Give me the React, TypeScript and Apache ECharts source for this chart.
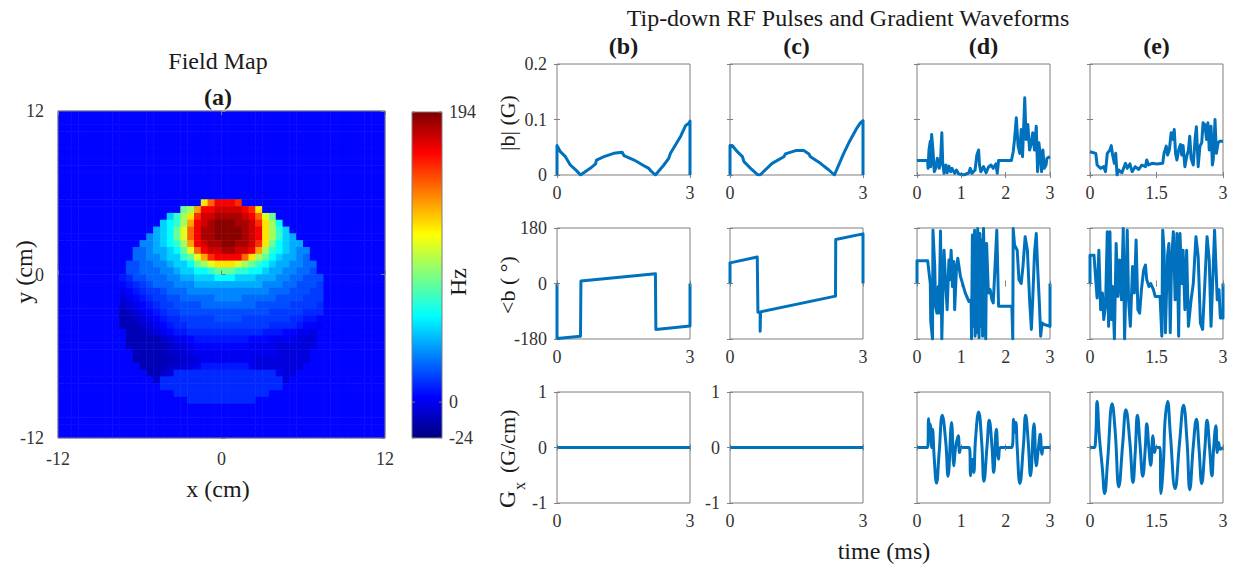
import React, { useEffect, useRef } from 'react';
import * as echarts from 'echarts';

const FONT = "'Liberation Serif', 'Times New Roman', serif";
const LINE_COLOR = '#0072BD';
const AXIS_COLOR = '#7f7f7f';
const LABEL_COLOR = '#333333';

// ---------- Field map (a) ----------
const FIELD_MIN = -24;
const FIELD_MAX = 194;
const FIELD_N = 48; // cells per side, 0.5 cm each, -12..12 cm
const FIELD_BACKGROUND = 4; // Hz outside the object
const FIELD_KEY = 'abcdefghijklmnopqrstuvwxyz';
const FIELD_LEVELS = [-12, -8, -4, 0, 4, 8, 12, 16, 20, 26, 32, 40, 48, 58, 68, 80, 92, 105, 118, 132, 145, 158, 168, 177, 185, 192];
const FIELD_ROW0 = 13; // first grid row (from top) covered by FIELD_ROWS
const FIELD_COL0 = 8; // grid column of offset 0
// [column offset, cell levels]
const FIELD_ROWS: [number, string][] = [
  [13, 'suwwwv'],
  [10, 'pqtwwxxxxwvs'],
  [8, 'moqsvxxyyyyxwurp'],
  [7, 'mnoqtwxyzzzyyxvsqn'],
  [6, 'lmnpruwyyzzzzyxwsqom'],
  [5, 'klmnpruwyyzzzzyxwsqoml'],
  [4, 'kklmnoqtwxyyzzyyxvspnmll'],
  [3, 'jjkllmnpruwxxyyxxwtqonmlkk'],
  [3, 'jjkklmmoprtvwwwwusqpnmllkj'],
  [2, 'iijjkklmmnpqrsssrqponmllkkjj'],
  [2, 'iijjjkklmmnnopppoonnmllkkjji'],
  [1, 'fgiijjjkkllmmmnnnmmmlllkkjjiii'],
  [1, 'efghijjjkkkllllllllllkkkjjiiih'],
  [1, 'defghhijjjkkkkkkkkkkkkjjjiiihh'],
  [1, 'cdefghhiijjjjjkkkkjjjjjiiiihhh'],
  [1, 'bcdefghhiiiijjjjjjjjiiiiihhhhg'],
  [1, 'abcdefghhiiiiiiiiiiiiihhhhhggg'],
  [1, 'aabcdefgghhhhhiiiihhhhhhhggffe'],
  [1, 'aaabcdefgghhhhhhhhhhhhggggfeed'],
  [2, 'aaabcdeffgggggggggggfffeeddc'],
  [2, 'aaaaabcddeffffffffeeeddddccc'],
  [2, 'aaaaaabccdeeeeeeeeddddcccccc'],
  [3, 'aaaaabbccddddddddddddccccc'],
  [3, 'aaaaaabbccddddddddcccccccc'],
  [4, 'aaaabbccdfffffffdccccccc'],
  [5, 'aabcgggggggggggggggdcc'],
  [6, 'bggggggggggggggggggc'],
  [7, 'gggggggggggggggggg'],
  [9, 'gggggggggggggg'],
  [11, 'gggggggggg'],
];
const FIELD_TICKS = [-12, 0, 12];
const COLORBAR_TICKS = [194, 0, -24];
const JET = ['#00007f', '#0000ff', '#007fff', '#00ffff', '#7fff7f', '#ffff00', '#ff7f00', '#ff0000', '#7f0000'];

// ---------- RF pulses and gradients: [time (ms), value] ----------
const MAG_B = [[0, 0], [0, 0.053], [0.075, 0.042], [0.19, 0.033], [0.3, 0.018], [0.41, 0.01], [0.45, 0.007], [0.53, 0], [0.75, 0.012], [0.87, 0.02], [0.89, 0.027], [1.06, 0.033], [1.28, 0.039], [1.47, 0.041], [1.51, 0.035], [1.74, 0.027], [2.0, 0.015], [2.07, 0.012], [2.11, 0.008], [2.22, 0], [2.41, 0.018], [2.52, 0.03], [2.56, 0.039], [2.79, 0.07], [2.9, 0.089], [2.98, 0.094], [3.0, 0.097], [3.0, 0]];
const MAG_C = [[0, 0], [0, 0.053], [0.05, 0.053], [0.165, 0.042], [0.28, 0.033], [0.315, 0.024], [0.465, 0.012], [0.615, 0.001], [0.675, 0], [0.73, 0.004], [0.95, 0.021], [1.215, 0.033], [1.25, 0.038], [1.48, 0.044], [1.665, 0.044], [1.78, 0.038], [1.815, 0.033], [2.04, 0.021], [2.23, 0.009], [2.355, 0], [2.565, 0.039], [2.68, 0.058], [2.865, 0.085], [2.94, 0.094], [3.0, 0.098], [3.0, 0]];
const MAG_D = [[0, 0.026], [0.24, 0.026], [0.25, 0.012], [0.27, 0.045], [0.3, 0.061], [0.31, 0.015], [0.33, 0.073], [0.36, 0.045], [0.39, 0.006], [0.42, 0.012], [0.46, 0.03], [0.5, 0.012], [0.53, 0.024], [0.56, 0.076], [0.58, 0.021], [0.61, 0.003], [0.65, 0.018], [0.68, 0.004], [0.72, 0.016], [0.76, 0.006], [0.79, 0.012], [0.85, 0.003], [0.89, 0.009], [0.94, 0.002], [1.05, 0], [1.17, 0.004], [1.2, 0.012], [1.24, 0.003], [1.31, 0.009], [1.35, 0.036], [1.39, 0.045], [1.41, 0.018], [1.44, 0.006], [1.5, 0.015], [1.56, 0.004], [1.61, 0.014], [1.67, 0.018], [1.72, 0.012], [1.78, 0.02], [1.81, 0.003], [1.84, 0.026], [2.13, 0.026], [2.17, 0.042], [2.2, 0.064], [2.24, 0.103], [2.28, 0.052], [2.32, 0.039], [2.35, 0.082], [2.38, 0.033], [2.41, 0.094], [2.43, 0.139], [2.46, 0.064], [2.5, 0.091], [2.54, 0.045], [2.58, 0.058], [2.61, 0.076], [2.65, 0.045], [2.69, 0.088], [2.72, 0.006], [2.75, 0.058], [2.78, 0.036], [2.81, 0.006], [2.84, 0.045], [2.87, 0.012], [2.91, 0.018], [2.93, 0.03], [3.0, 0.033]];
const MAG_E = [[0, 0.042], [0.13, 0.039], [0.16, 0.018], [0.24, 0.012], [0.31, 0.015], [0.35, 0.006], [0.39, 0.039], [0.45, 0.045], [0.48, 0.053], [0.51, 0.036], [0.55, 0.021], [0.58, 0.039], [0.61, 0], [0.65, 0.009], [0.72, 0.004], [0.8, 0.021], [0.84, 0.012], [0.9, 0.02], [0.95, 0.006], [1.02, 0.015], [1.1, 0.01], [1.17, 0.018], [1.25, 0.015], [1.28, 0.027], [1.32, 0.018], [1.4, 0.021], [1.51, 0.02], [1.64, 0.021], [1.67, 0.039], [1.72, 0.052], [1.75, 0.036], [1.79, 0.045], [1.83, 0.076], [1.87, 0.064], [1.9, 0.082], [1.93, 0.039], [1.96, 0.027], [2.0, 0.045], [2.04, 0.055], [2.07, 0.036], [2.1, 0.053], [2.14, 0.015], [2.18, 0.033], [2.22, 0.045], [2.25, 0.07], [2.28, 0.03], [2.33, 0.018], [2.37, 0.064], [2.4, 0.087], [2.44, 0.015], [2.48, 0.052], [2.52, 0.058], [2.55, 0.094], [2.59, 0.091], [2.63, 0.064], [2.66, 0.094], [2.69, 0.045], [2.73, 0.088], [2.76, 0.018], [2.78, 0.027], [2.82, 0.1], [2.85, 0.039], [2.89, 0.058], [2.93, 0.061], [3.0, 0.061]];

const PHASE_B = [[0, 0], [0, -178], [0.53, -171], [0.54, 8], [2.22, 32], [2.23, -149], [3.0, -138], [3.0, 0]];
const PHASE_C = [[0, 0], [0, 67], [0.615, 86], [0.63, -93], [0.68, -93], [0.68, -155], [0.69, -92], [2.38, -41], [2.385, 143], [3.0, 161], [3.0, 0]];
const PHASE_D = [[0, 0], [0, 74], [0.24, 74], [0.3, 0], [0.31, -123], [0.35, -180], [0.36, 173], [0.4, 55], [0.42, -74], [0.45, -96], [0.48, -10], [0.5, -96], [0.53, 170], [0.56, -180], [0.59, 12], [0.61, 108], [0.65, -10], [0.68, -85], [0.72, 76], [0.74, 12], [0.77, 108], [0.8, -10], [0.83, 71], [0.85, -85], [0.89, 49], [0.92, 82], [0.98, 23], [1.09, -31], [1.17, -58], [1.22, -53], [1.23, -180], [1.25, 157], [1.28, -139], [1.3, 173], [1.31, -171], [1.34, 130], [1.35, -160], [1.37, 178], [1.4, -176], [1.42, 162], [1.44, -139], [1.46, 141], [1.48, -171], [1.5, 178], [1.53, 0], [1.55, -180], [1.57, 130], [1.61, -31], [1.65, -20], [1.69, -53], [1.72, -63], [1.8, 173], [1.84, -74], [2.14, -74], [2.16, -180], [2.17, 178], [2.2, 125], [2.26, 108], [2.3, 12], [2.35, 0], [2.39, 55], [2.44, 152], [2.49, 108], [2.54, -53], [2.58, -149], [2.61, -53], [2.65, 98], [2.69, 162], [2.72, 55], [2.76, -63], [2.79, -171], [2.82, -128], [2.87, -133], [3.0, -139], [3.0, 0]];
const PHASE_E = [[0, 0], [0, 92], [0.09, 92], [0.13, 12], [0.16, -47], [0.2, 108], [0.24, -85], [0.28, -31], [0.31, -117], [0.35, -74], [0.39, 168], [0.42, -139], [0.45, 168], [0.48, -117], [0.51, -10], [0.55, -180], [0.59, 130], [0.63, -42], [0.67, 76], [0.71, -53], [0.75, 178], [0.78, -180], [0.84, 173], [0.87, -53], [0.91, -139], [0.96, 55], [1.0, -31], [1.04, 141], [1.08, -85], [1.12, -96], [1.16, -20], [1.21, 44], [1.25, 60], [1.28, 12], [1.33, -10], [1.37, 0], [1.43, -20], [1.47, -42], [1.58, -42], [1.62, -171], [1.64, 173], [1.67, 108], [1.7, -160], [1.75, 92], [1.78, 130], [1.81, -160], [1.84, 76], [1.88, 168], [1.92, -53], [1.96, 162], [2.0, -171], [2.03, 162], [2.07, 0], [2.1, 108], [2.14, -85], [2.18, 108], [2.22, -139], [2.28, -53], [2.33, 0], [2.39, 152], [2.44, 87], [2.49, -128], [2.54, -149], [2.59, 0], [2.64, 152], [2.69, 76], [2.73, -139], [2.78, 55], [2.81, 173], [2.87, -53], [2.91, -20], [2.94, -112], [3.0, -112], [3.0, 0]];

const GX_B = [[0, 0], [3, 0]];
const GX_C = [[0, 0], [3, 0]];
const GX_D = [[0, 0], [0.24, 0], [0.26, 0.52], [0.28, 0.15], [0.3, 0.42], [0.33, 0], [0.35, 0.33], [0.39, -0.21], [0.44, -0.64], [0.5, -0.09], [0.57, 0.58], [0.65, 0.09], [0.7, -0.52], [0.78, 0.45], [0.83, -0.33], [0.87, 0], [0.93, 0.21], [0.96, -0.09], [0.99, 0], [1.18, 0], [1.21, -0.51], [1.25, -0.21], [1.28, -0.45], [1.32, 0.15], [1.39, 0.64], [1.46, 0.09], [1.51, -0.61], [1.58, 0.03], [1.63, 0.49], [1.69, 0.03], [1.73, -0.45], [1.79, 0.33], [1.84, -0.21], [1.88, 0], [2.14, 0], [2.18, 0.51], [2.2, 0.27], [2.23, 0.45], [2.26, 0], [2.32, -0.65], [2.4, 0.03], [2.45, 0.58], [2.51, 0.09], [2.56, -0.51], [2.64, 0.43], [2.69, -0.33], [2.74, 0], [2.78, 0.24], [2.82, -0.12], [2.86, 0], [3.0, 0]];
const GX_E = [[0, 0], [0.09, 0], [0.13, 0.21], [0.16, 0.83], [0.21, 0.21], [0.28, -0.39], [0.33, -0.83], [0.4, -0.21], [0.5, 0.79], [0.57, 0.27], [0.65, -0.71], [0.74, 0.09], [0.81, 0.68], [0.9, 0.09], [0.97, -0.63], [1.02, -0.09], [1.07, 0.58], [1.13, 0.03], [1.19, -0.52], [1.25, 0.03], [1.28, 0.43], [1.33, -0.03], [1.37, -0.32], [1.42, 0.21], [1.46, -0.09], [1.49, 0], [1.58, 0], [1.6, -0.83], [1.66, -0.21], [1.69, 0.45], [1.75, 0.83], [1.81, 0.27], [1.92, -0.74], [2.02, 0.09], [2.11, 0.76], [2.19, 0.09], [2.25, -0.76], [2.33, 0.03], [2.4, 0.51], [2.46, -0.03], [2.52, -0.65], [2.59, -0.03], [2.64, 0.49], [2.7, -0.03], [2.75, -0.51], [2.79, 0], [2.84, 0.39], [2.87, -0.09], [2.9, 0.09], [2.94, -0.03], [3.0, 0]];

const PANEL_LABELS = ['(b)', '(c)', '(d)', '(e)'];
const ROW_NAMES = ['|b| (G)', '<b ( \u00b0)', 'G'];
const ROW_Y_RANGES = [
  { min: 0, max: 0.2, interval: 0.1 },
  { min: -180, max: 180, interval: 180 },
  { min: -1, max: 1, interval: 1 },
];
const COL_X_INTERVALS = [3, 3, 1, 1.5];
const PANEL_DATA = [
  [MAG_B, MAG_C, MAG_D, MAG_E],
  [PHASE_B, PHASE_C, PHASE_D, PHASE_E],
  [GX_B, GX_C, GX_D, GX_E],
];
const SHOW_Y_LABELS = [
  [true, false, false, false],
  [true, false, false, false],
  [true, true, false, false],
];

// ---------- layout ----------
const HEAT = { left: 58, top: 111, width: 327, height: 327 };
const CBAR = { x: 412, y: 112, width: 30, height: 326 };
const PANEL_LEFTS = [557, 730, 917, 1090];
const PANEL_TOPS = [64, 228, 392];
const PANEL_W = 133;
const PANEL_H = 111;

function fmtNum(v: number) {
  return String(Math.round(v * 1000) / 1000);
}

function buildOption() {
  const grid: any[] = [];
  const xAxis: any[] = [];
  const yAxis: any[] = [];
  const series: any[] = [];
  const mirrorX: any[] = [];
  const mirrorY: any[] = [];
  const tickLabel = { fontFamily: FONT, fontSize: 18, color: LABEL_COLOR };

  // heatmap grid
  grid.push({ ...HEAT, show: false });
  const cats = Array.from({ length: FIELD_N }, (_, i) => i);
  xAxis.push({ type: 'category', gridIndex: 0, data: cats, show: false, position: 'bottom' });
  yAxis.push({ type: 'category', gridIndex: 0, data: cats, show: false, position: 'left' });
  xAxis.push({
    type: 'value', gridIndex: 0, min: FIELD_TICKS[0], max: FIELD_TICKS[2], interval: 12, position: 'bottom', z: 10,
    axisLine: { show: false }, axisTick: { show: true, inside: true, length: 4, lineStyle: { color: AXIS_COLOR } },
    axisLabel: { ...tickLabel, margin: 12, formatter: fmtNum }, splitLine: { show: false },
  });
  yAxis.push({
    type: 'value', gridIndex: 0, min: FIELD_TICKS[0], max: FIELD_TICKS[2], interval: 12, position: 'left', z: 10,
    axisLine: { show: false }, axisTick: { show: true, inside: true, length: 4, lineStyle: { color: AXIS_COLOR } },
    axisLabel: { ...tickLabel, margin: 14, formatter: fmtNum }, splitLine: { show: false },
  });
  mirrorX.push({ gridIndex: 0, min: -12, max: 12, interval: 12, tick: 4 });
  mirrorY.push({ gridIndex: 0, min: -12, max: 12, interval: 12, tick: 4 });

  const heat: number[][] = [];
  for (let i = 0; i < FIELD_N; i++) {
    for (let j = 0; j < FIELD_N; j++) {
      const r = i - FIELD_ROW0;
      let ch = '.';
      if (r >= 0 && r < FIELD_ROWS.length) {
        const [off, cells] = FIELD_ROWS[r];
        const c = j - FIELD_COL0 - off;
        if (c >= 0 && c < cells.length) ch = cells[c];
      }
      const k = FIELD_KEY.indexOf(ch);
      const v = k < 0 ? FIELD_BACKGROUND : FIELD_LEVELS[k];
      heat.push([j, FIELD_N - 1 - i, v]);
    }
  }
  series.push({
    type: 'heatmap', xAxisIndex: 0, yAxisIndex: 0, data: heat, silent: true,
    itemStyle: { borderWidth: 0 }, emphasis: { disabled: true }, progressive: 0,
  });

  // panels
  for (let row = 0; row < 3; row++) {
    for (let col = 0; col < 4; col++) {
      const gi = grid.length;
      grid.push({
        left: PANEL_LEFTS[col], top: PANEL_TOPS[row], width: PANEL_W, height: PANEL_H,
        show: true, borderColor: AXIS_COLOR, borderWidth: 1, backgroundColor: '#ffffff',
      });
      const yr = ROW_Y_RANGES[row];
      const xi = xAxis.length;
      xAxis.push({
        type: 'value', gridIndex: gi, min: 0, max: 3, interval: COL_X_INTERVALS[col], position: 'bottom',
        axisLine: { show: false }, axisTick: { show: true, inside: true, length: 3, lineStyle: { color: AXIS_COLOR } },
        axisLabel: { ...tickLabel, margin: 9, formatter: fmtNum }, splitLine: { show: false },
      });
      const yi = yAxis.length;
      yAxis.push({
        type: 'value', gridIndex: gi, min: yr.min, max: yr.max, interval: yr.interval, position: 'left',
        axisLine: { show: false }, axisTick: { show: true, inside: true, length: 3, lineStyle: { color: AXIS_COLOR } },
        axisLabel: {
          ...tickLabel, margin: 10, show: SHOW_Y_LABELS[row][col],
          formatter: (v: number) => (row === 0 && v !== 0 ? v.toFixed(1) : fmtNum(v)),
        },
        splitLine: { show: false },
      });
      mirrorX.push({ gridIndex: gi, min: 0, max: 3, interval: COL_X_INTERVALS[col], tick: 3 });
      mirrorY.push({ gridIndex: gi, min: yr.min, max: yr.max, interval: yr.interval, tick: 3 });
      const smoothGrad = row === 2 && col >= 2;
      series.push({
        type: 'line', xAxisIndex: xi, yAxisIndex: yi, data: PANEL_DATA[row][col],
        showSymbol: false, symbol: 'none', silent: true, clip: true,
        smooth: smoothGrad ? 0.45 : false,
        lineStyle: { color: LINE_COLOR, width: 3, join: 'round' }, itemStyle: { color: LINE_COLOR },
      });
    }
  }

  for (const m of mirrorX) {
    xAxis.push({
      type: 'value', gridIndex: m.gridIndex, min: m.min, max: m.max, interval: m.interval, position: 'top', z: 10,
      axisLine: { show: false }, axisLabel: { show: false }, splitLine: { show: false },
      axisTick: { show: true, inside: true, length: m.tick, lineStyle: { color: AXIS_COLOR } },
    });
  }
  for (const m of mirrorY) {
    yAxis.push({
      type: 'value', gridIndex: m.gridIndex, min: m.min, max: m.max, interval: m.interval, position: 'right', z: 10,
      axisLine: { show: false }, axisLabel: { show: false }, splitLine: { show: false },
      axisTick: { show: true, inside: true, length: m.tick, lineStyle: { color: AXIS_COLOR } },
    });
  }

  const txt = (text: string, x: number, y: number, size: number, o: any = {}) => ({
    type: 'text', x, y, rotation: o.rot || 0, z: 100, silent: true,
    style: {
      text, fontSize: size, fontFamily: FONT, fontWeight: o.bold ? 'bold' : 'normal',
      fill: o.color || '#1a1a1a', align: o.align || 'center', verticalAlign: o.valign || 'middle',
    },
  });
  const ROT = Math.PI / 2;

  const n = JET.length - 1;
  const stops = JET.map((c, i) => ({ offset: 1 - i / n, color: c })).reverse();

  const graphic: any[] = [
    { type: 'rect', z: 100, silent: true, shape: { x: HEAT.left, y: HEAT.top, width: HEAT.width, height: HEAT.height }, style: { fill: 'none', stroke: AXIS_COLOR, lineWidth: 1 } },
    { type: 'rect', z: 100, silent: true, shape: { ...CBAR }, style: { fill: new echarts.graphic.LinearGradient(0, 0, 0, 1, stops), stroke: AXIS_COLOR, lineWidth: 1 } },
    txt('Field Map', 218, 61, 24),
    txt('(a)', 218, 97, 24, { bold: true }),
    txt('y (cm)', 24, 272, 24, { rot: ROT }),
    txt('x (cm)', 218, 489, 24),
    txt('Hz', 458, 282, 24, { rot: ROT }),
    txt('Tip-down RF Pulses and Gradient Waveforms', 848, 18, 24),
    txt('time (ms)', 884, 551, 24),
    txt(ROW_NAMES[0], 507, 123, 22, { rot: ROT }),
    txt(ROW_NAMES[1], 507, 285, 22, { rot: ROT }),
    txt(ROW_NAMES[2], 507, 508, 24, { rot: ROT, align: 'left' }),
    txt('x', 519, 490, 16, { rot: ROT, align: 'left' }),
    txt('(G/cm)', 507, 473, 22, { rot: ROT, align: 'left' }),
  ];
  COLORBAR_TICKS.forEach((v) => {
    const y = CBAR.y + CBAR.height * (1 - (v - FIELD_MIN) / (FIELD_MAX - FIELD_MIN));
    graphic.push(txt(String(v), CBAR.x + CBAR.width + 7, y, 18, { align: 'left', color: LABEL_COLOR }));
    graphic.push({ type: 'line', z: 100, silent: true, shape: { x1: CBAR.x, y1: y, x2: CBAR.x + 3, y2: y }, style: { stroke: AXIS_COLOR, lineWidth: 1 } });
    graphic.push({ type: 'line', z: 100, silent: true, shape: { x1: CBAR.x + CBAR.width - 3, y1: y, x2: CBAR.x + CBAR.width, y2: y }, style: { stroke: AXIS_COLOR, lineWidth: 1 } });
  });
  PANEL_LABELS.forEach((t, i) => {
    graphic.push(txt(t, PANEL_LEFTS[i] + PANEL_W / 2, 46, 24, { bold: true }));
  });

  return {
    animation: false,
    backgroundColor: '#ffffff',
    grid,
    xAxis,
    yAxis,
    visualMap: {
      type: 'continuous', show: false, min: FIELD_MIN, max: FIELD_MAX, seriesIndex: 0, dimension: 2,
      inRange: { color: JET },
    },
    series,
    graphic,
  };
}

export default function App() {
  const ref = useRef<HTMLDivElement>(null);
  useEffect(() => {
    if (!ref.current) return;
    const chart = echarts.init(ref.current, undefined, { renderer: 'svg' });
    chart.setOption(buildOption() as any);
    return () => chart.dispose();
  }, []);
  return (
    <div
      ref={ref}
      style={{ position: 'fixed', left: 0, top: 0, width: 1234, height: 569, background: '#ffffff' }}
    />
  );
}
